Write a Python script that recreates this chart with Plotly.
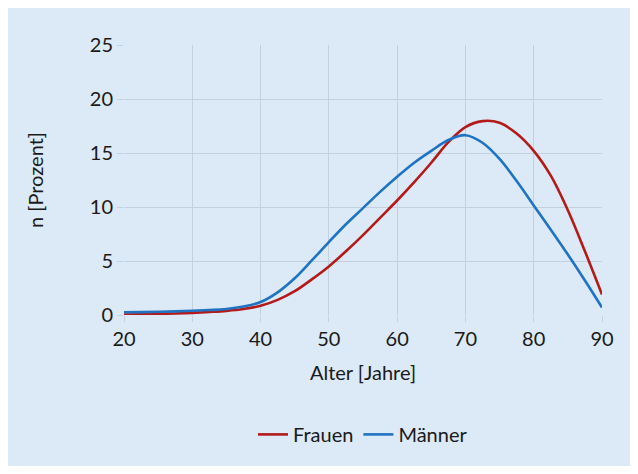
import plotly.graph_objects as go

alter = [20, 22.5, 25, 27.5, 30, 32.5, 35, 37.5, 40, 42.5, 45, 47.5, 50, 52.5, 55, 57.5,
         60, 62.5, 65, 67.5, 70, 72.5, 75, 77.5, 80, 82.5, 85, 87.5, 90]
frauen = [0.05, 0.07, 0.1, 0.14, 0.2, 0.28, 0.38, 0.55, 0.85, 1.4, 2.2, 3.3, 4.5, 5.9, 7.4, 9.0,
          10.6, 12.3, 14.1, 16.0, 17.4, 17.95, 17.8, 16.8, 15.2, 12.9, 9.7, 5.9, 1.9]
maenner = [0.25, 0.27, 0.3, 0.34, 0.4, 0.46, 0.55, 0.78, 1.2, 2.1, 3.4, 5.05, 6.75, 8.4, 9.9, 11.4,
           12.8, 14.1, 15.2, 16.2, 16.65, 15.95, 14.45, 12.4, 10.15, 7.9, 5.6, 3.2, 0.7]

x_ticks = [20, 30, 40, 50, 60, 70, 80, 90]
y_ticks = [0, 5, 10, 15, 20, 25]

BG = "#dce9f6"
GRID = "#c3d0dd"
FONT = "Lato"

fig = go.Figure()
fig.add_trace(go.Scatter(x=alter, y=frauen, name="Frauen", mode="lines",
                         line=dict(color="#b31b1b", width=2.6, shape="spline", smoothing=1.0)))
fig.add_trace(go.Scatter(x=alter, y=maenner, name="Männer", mode="lines",
                         line=dict(color="#1f73c2", width=2.6, shape="spline", smoothing=1.0)))

W, H = 622, 458
L, T = 116, 37
R = W - 594
B = H - 307

fig.update_layout(
    width=W, height=H,
    margin=dict(l=L, r=R, t=T, b=B),
    paper_bgcolor=BG, plot_bgcolor=BG,
    font=dict(family=FONT, size=20, color="#1a1a1a"),
    showlegend=True,
    legend=dict(orientation="h", x=0.5, xanchor="center", y=-0.37, yanchor="top",
                bgcolor="rgba(0,0,0,0)", font=dict(size=20), itemwidth=30),
    xaxis=dict(range=[20, 90], tickvals=x_ticks, showgrid=True, gridcolor=GRID, gridwidth=1,
               ticks="outside", ticklen=6, tickcolor=GRID, zeroline=False, showline=False,
               title=dict(text="Alter [Jahre]", font=dict(size=20), standoff=16),
               tickfont=dict(size=20)),
    yaxis=dict(range=[0, 25], tickvals=y_ticks, showgrid=True, gridcolor=GRID, gridwidth=1,
               ticks="outside", ticklen=6, tickcolor=GRID, zeroline=False, showline=False,
               title=dict(text="n [Prozent]", font=dict(size=20), standoff=40),
               tickfont=dict(size=20)),
)

fig.write_html("out.html")
